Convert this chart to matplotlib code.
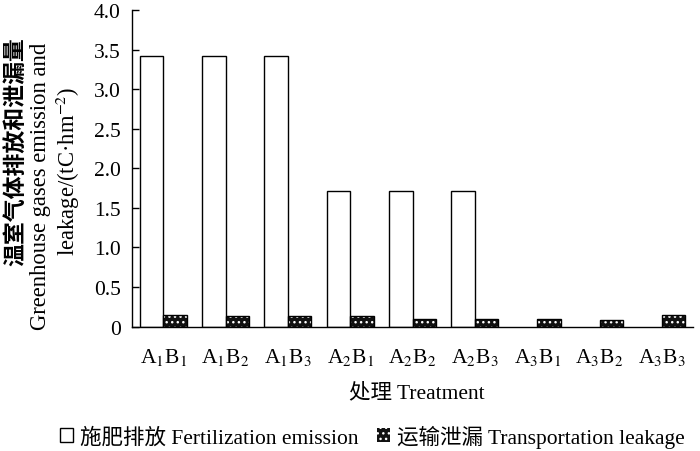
import matplotlib
matplotlib.use("Agg")
import matplotlib.pyplot as plt
from matplotlib.patches import Patch
import numpy as np

plt.rcParams['font.family'] = ['Liberation Serif', 'Noto Sans CJK SC']
plt.rcParams['mathtext.fontset'] = 'stix'
plt.rcParams['hatch.linewidth'] = 1.0

categories = [r'A$_1$B$_1$', r'A$_1$B$_2$', r'A$_1$B$_3$',
              r'A$_2$B$_1$', r'A$_2$B$_2$', r'A$_2$B$_3$',
              r'A$_3$B$_1$', r'A$_3$B$_2$', r'A$_3$B$_3$']
fertilization = [3.42, 3.42, 3.42, 1.71, 1.71, 1.71, 0.0, 0.0, 0.0]
transportation = [0.15, 0.13, 0.13, 0.13, 0.10, 0.10, 0.09, 0.08, 0.14]
yticks = [0, 0.5, 1.0, 1.5, 2.0, 2.5, 3.0, 3.5, 4.0]
ytick_labels = ['0', '0.5', '1.0', '1.5', '2.0', '2.5', '3.0', '3.5', '4.0']

fig = plt.figure(figsize=(7, 4.52), dpi=100)
ax = fig.add_axes([0.1886, 0.2754, 0.8014, 0.7003])

x = np.arange(len(categories))
w = 0.375
fert_edges = ['black' if v > 0 else 'none' for v in fertilization]
ax.bar(x - w / 2, fertilization, w, facecolor='white', edgecolor=fert_edges, linewidth=1.0)
ax.bar(x + w / 2, transportation, w, facecolor='#111111', edgecolor='white', hatch='...', linewidth=0)
ax.bar(x + w / 2, transportation, w, facecolor='none', edgecolor='black', linewidth=1.0)

ax.set_xlim(-0.5, len(categories) - 0.5)
ax.set_ylim(0, 4.0)
ax.set_yticks(yticks)
ax.set_yticklabels(ytick_labels)
ax.set_xticks(x)
ax.set_xticklabels(categories)
ax.tick_params(axis='y', direction='in', length=5, width=1, pad=8, labelsize=15.5)
ax.tick_params(axis='x', length=0, pad=14, labelsize=15.5)
for s in ['top', 'right']:
    ax.spines[s].set_visible(False)
for s in ['left', 'bottom']:
    ax.spines[s].set_linewidth(1.0)

ax.set_xlabel('处理 Treatment', fontsize=15.5)
ax.xaxis.label.set_va('center')
ax.xaxis.set_label_coords(0.507, -(393 - 327.5) / 316.5)

fig.text(0.022, 1 - 152 / 452, '温室气体排放和泄漏量', rotation=90, ha='center', va='center',
         fontsize=16.5, family='Noto Sans CJK SC', fontweight='bold')
fig.text(0.058, 1 - 186 / 452, 'Greenhouse gases emission and', rotation=90, ha='center', va='center',
         fontsize=16.3)
fig.text(0.097, 1 - 171 / 452, 'leakage/(tC·hm$^{-2}$)', rotation=90, ha='center', va='center',
         fontsize=16.3)

handles = [Patch(facecolor='white', edgecolor='black', linewidth=1.0),
           Patch(facecolor='#111111', edgecolor='white', hatch='...', linewidth=0)]
labels = ['施肥排放 Fertilization emission', '运输泄漏 Transportation leakage']
fig.legend(handles, labels, loc='center', bbox_to_anchor=(0.532, 1 - 437 / 452), ncol=2,
           frameon=False, fontsize=15.5, handlelength=0.6, handleheight=0.6,
           handletextpad=0.3, columnspacing=0.9)

fig.savefig('out.png', dpi=100)
